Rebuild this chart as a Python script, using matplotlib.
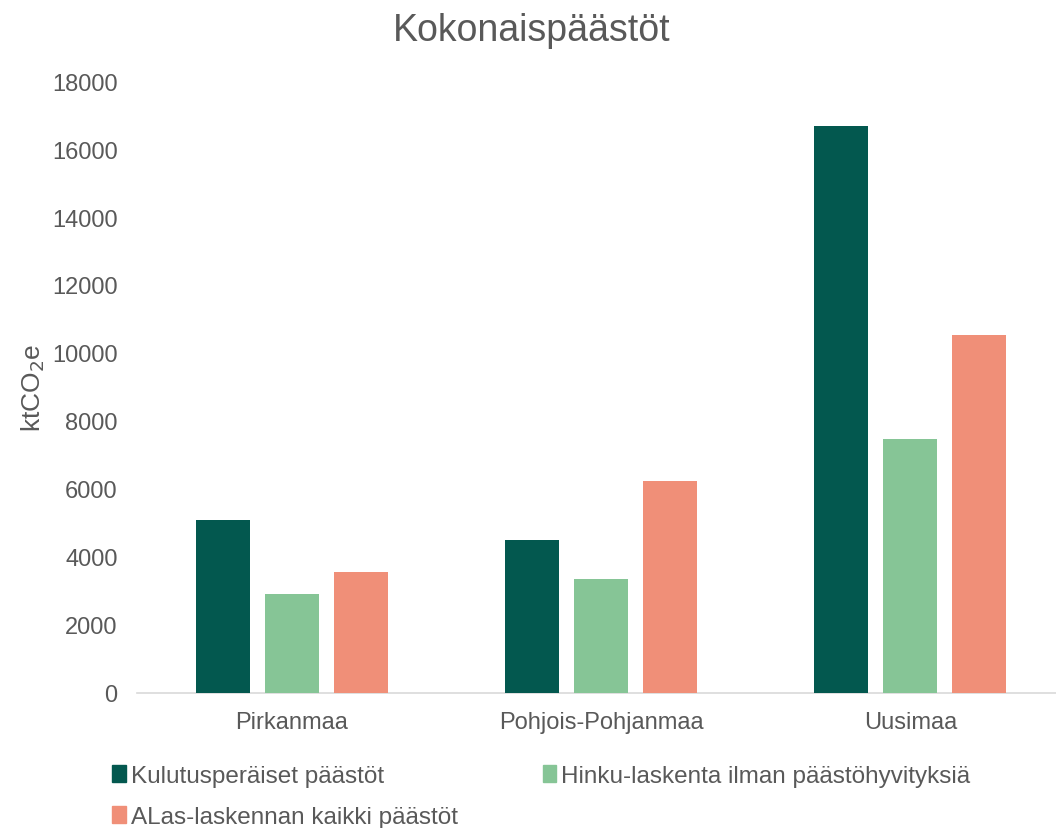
import matplotlib.pyplot as plt
from matplotlib.patches import Patch
import numpy as np

plt.rcParams['font.family'] = ['Liberation Sans', 'DejaVu Sans']

regions = ['Pirkanmaa', 'Pohjois-Pohjanmaa', 'Uusimaa']
series_names = ['Kulutusperäiset päästöt',
                'Hinku-laskenta ilman päästöhyvityksiä',
                'ALas-laskennan kaikki päästöt']
kulutus = [5100, 4500, 16680]
hinku = [2920, 3350, 7470]
alas = [3560, 6240, 10540]
colors = ['#03584f', '#86c596', '#f08f78']

text_color = '#595959'

fig = plt.figure(figsize=(10.56, 8.29), dpi=100)
ax = fig.add_axes([137 / 1056, 135 / 829, 928 / 1056, 612 / 829])

x = np.arange(len(regions))
width = 0.174
offset = 0.223
for i, (vals, col) in enumerate(zip([kulutus, hinku, alas], colors)):
    ax.bar(x + (i - 1) * offset, vals, width, color=col, label=series_names[i], zorder=3)

ax.set_xlim(-0.5, 2.5)
ax.set_ylim(0, 18000)
ax.set_yticks(np.arange(0, 18001, 2000))
ax.set_xticks(x)
ax.set_xticklabels(regions)
ax.tick_params(axis='both', length=0, labelsize=17, colors=text_color)
ax.tick_params(axis='y', pad=14)
ax.tick_params(axis='x', pad=13)

for s in ['top', 'right', 'left']:
    ax.spines[s].set_visible(False)
ax.spines['bottom'].set_color('#d9d9d9')
ax.spines['bottom'].set_linewidth(1.2)

ax.set_ylabel('ktCO$_2$e', fontsize=19, color=text_color)
ax.yaxis.set_label_coords(-0.097, 0.5)

fig.text(532 / 1056, 1 - 31 / 829, 'Kokonaispäästöt', ha='center', va='center',
         fontsize=27, color=text_color)

# järjestys niin, että rivit menevät kuten alkuperäisessä
order = [0, 2, 1]
handles = [Patch(color=colors[k]) for k in order]
labels = [series_names[k] for k in order]
fig.legend(handles, labels, loc='upper left', ncol=2,
           bbox_to_anchor=(105 / 1056, 1 - 759 / 829), frameon=False,
           fontsize=17.5, labelcolor=text_color, handlelength=0.55, handleheight=0.7,
           handletextpad=0.2, columnspacing=3.5, labelspacing=0.75,
           borderaxespad=0, borderpad=0.3)

fig.savefig('out.png', dpi=100)
